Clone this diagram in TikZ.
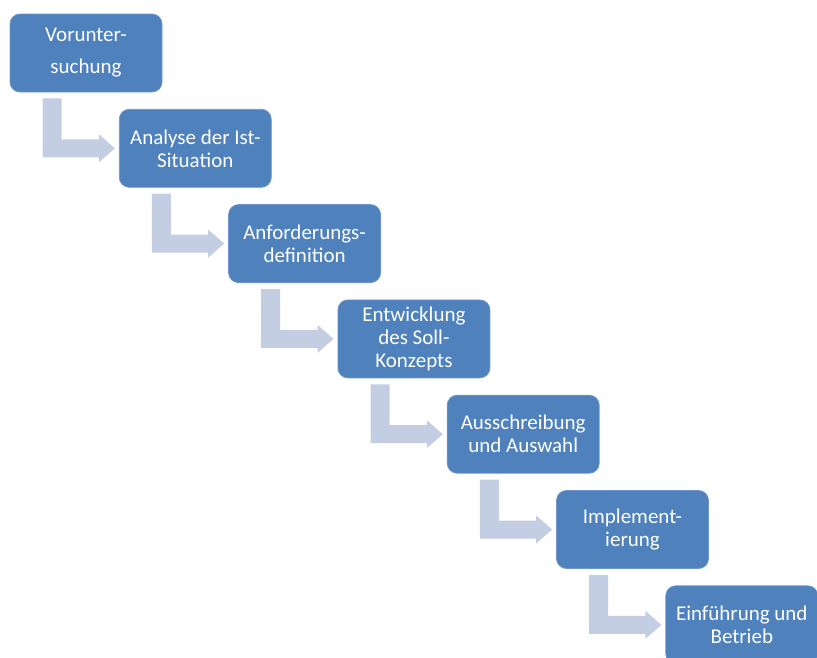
\documentclass[tikz,border=0pt]{standalone}
\usepackage{fontspec}
\setmainfont{Carlito}
\usepackage{tikz}
\usetikzlibrary{calc}
\usetikzlibrary{positioning}
\definecolor{phasefill}{RGB}{79,129,189}
\definecolor{phaseline}{RGB}{110,150,205}
\definecolor{bentfill}{RGB}{196,206,227}

\begin{document}
\begin{tikzpicture}[x=1pt, y=-1pt,
    phase/.style={rectangle, rounded corners=10pt, fill=phasefill, draw=phaseline,
      line width=0.8pt, minimum width=152pt, minimum height=78pt, inner sep=2pt,
      align=center, text=white, font=\fontsize{21}{23}\selectfont},
    bentarrow/.style={fill=bentfill}]
  \useasboundingbox (0,0) rectangle (817,657);

  % the seven phases
  \foreach \i/\txt in {1/{Vorunter-\\[9pt]suchung},
                       2/{Analyse der Ist-\\Situation},
                       3/{Anforderungs-\\definition},
                       4/{Entwicklung\\des Soll-\\Konzepts},
                       5/{Ausschreibung\\und Auswahl},
                       6/{Implement-\\ierung},
                       7/{Einführung und\\Betrieb}} {
    \node[phase] (b\i) at ({86+109.3*(\i-1)}, {53+95.3*(\i-1)}) {\txt};
  }

  % bent arrows between phases
  \foreach \i in {1, 2, ..., 6} {
    \pgfmathtruncatemacro\j{\i+1}
    \path (b\i.south west) ++(33,6) coordinate (p\i);
    \fill[bentarrow] (p\i) -- ++(19,0)
      -- ($(p\i |- b\j.west)+(19,-9)$)
      -- ($(b\j.west)+(-20,-9)$)
      -- ($(b\j.west)+(-20,-14)$)
      -- ($(b\j.west)+(-4,0)$)
      -- ($(b\j.west)+(-20,14)$)
      -- ($(b\j.west)+(-20,9)$)
      -- ($(p\i |- b\j.west)+(0,9)$)
      -- cycle;
  }
\end{tikzpicture}
\end{document}
